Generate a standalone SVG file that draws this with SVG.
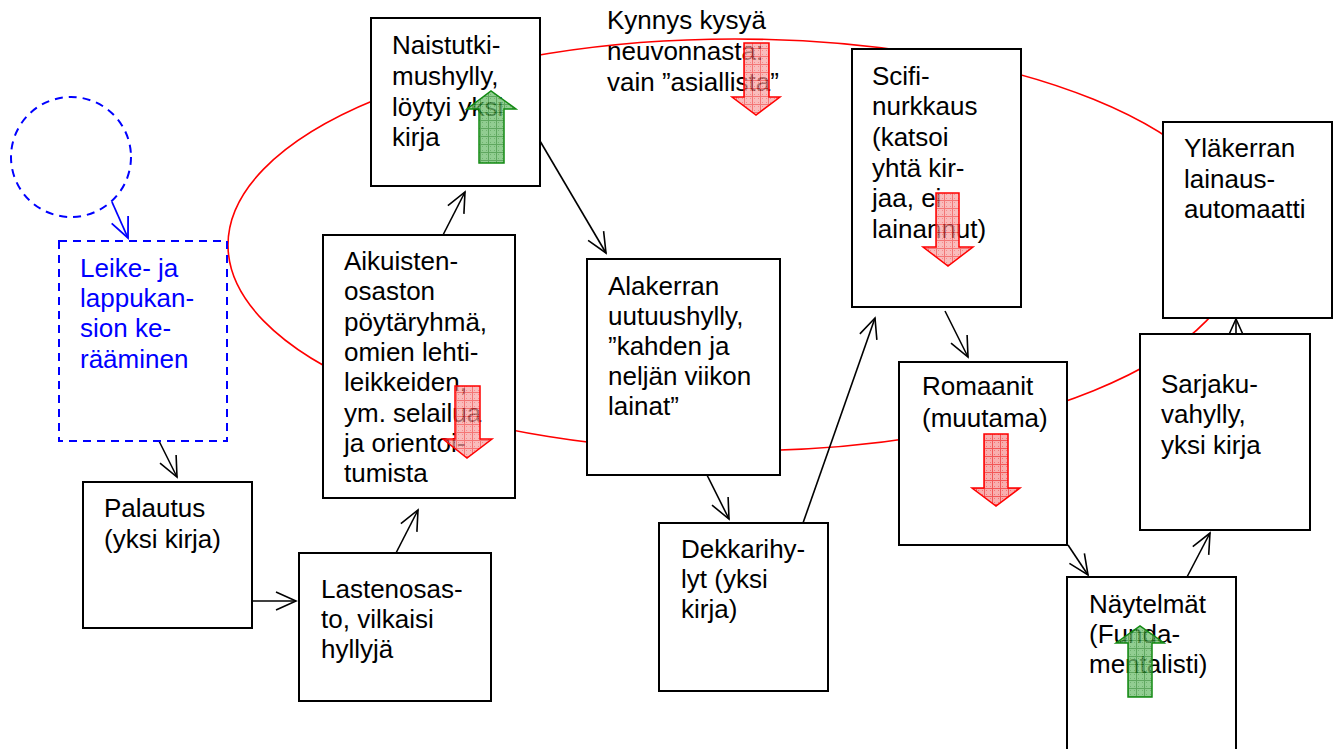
<svg xmlns="http://www.w3.org/2000/svg" width="1338" height="749" viewBox="0 0 1338 749">
  <style>
    .box { fill: #ffffff; stroke: #000000; stroke-width: 2; }
    .dash { fill: #ffffff; stroke: #0000ff; stroke-width: 2; stroke-dasharray: 8 6; }
    .lbl { font-family: "Liberation Sans", Arial, sans-serif; font-size: 26px; fill: #000000; }
    .blue { fill: #0000ff; }
    .conn { stroke: #000000; stroke-width: 1.6; fill: none; marker-end: url(#open); }
    .conn-blue { stroke: #0000ff; stroke-width: 1.8; fill: none; marker-end: url(#openBlue); }
    .down { fill: url(#hatchRed); stroke: #ff0000; stroke-width: 1.5; }
    .up { fill: url(#hatchGreen); stroke: #138a13; stroke-width: 1.5; }
  </style>
  <defs>
    <marker id="open" markerUnits="userSpaceOnUse" markerWidth="26" markerHeight="22" refX="0" refY="0" viewBox="-22 -11 24 22" orient="auto">
      <path d="M-20,-9 L0,0 L-20,9" fill="none" stroke="#000000" stroke-width="1.6"/>
    </marker>
    <marker id="openBlue" markerUnits="userSpaceOnUse" markerWidth="26" markerHeight="22" refX="0" refY="0" viewBox="-22 -11 24 22" orient="auto">
      <path d="M-20,-9 L0,0 L-20,9" fill="none" stroke="#0000ff" stroke-width="1.8"/>
    </marker>
    <pattern id="hatchRed" width="8" height="8" patternUnits="userSpaceOnUse">
      <rect width="8" height="8" fill="#f7a0a0"/>
      <path d="M0,0.5 H8 M0.5,0 V8" stroke="#f03a3a" stroke-width="1"/>
      <path d="M2,2 h1 v1 h-1 Z M6,6 h1 v1 h-1 Z M2,6 h1 v1 h-1 Z M6,2 h1 v1 h-1 Z" fill="#f05a5a"/>
    </pattern>
    <pattern id="hatchGreen" width="8" height="8" patternUnits="userSpaceOnUse">
      <rect width="8" height="8" fill="#6cbc6c"/>
      <path d="M0,0.5 H8 M0.5,0 V8" stroke="#2a8a2a" stroke-width="1"/>
      <path d="M2,2 h1 v1 h-1 Z M6,6 h1 v1 h-1 Z M2,6 h1 v1 h-1 Z M6,2 h1 v1 h-1 Z" fill="#3f9a3f"/>
    </pattern>
  </defs>

  <rect width="1338" height="749" fill="#ffffff"/>

  <!-- loop through the library -->
  <ellipse cx="735" cy="245" rx="507" ry="206" fill="none" stroke="#ff0000" stroke-width="1.6"/>

  <g id="connectors">
    <line class="conn-blue" x1="112" y1="202" x2="128" y2="238"/>
    <line class="conn" x1="155" y1="433" x2="177" y2="477"/>
    <line class="conn" x1="252" y1="601" x2="296" y2="601"/>
    <line class="conn" x1="396" y1="553" x2="418" y2="510"/>
    <line class="conn" x1="443" y1="235" x2="465" y2="192"/>
    <line class="conn" x1="540" y1="141" x2="606" y2="253"/>
    <line class="conn" x1="707" y1="475" x2="729" y2="519"/>
    <line class="conn" x1="803" y1="523" x2="875" y2="318"/>
    <line class="conn" x1="945" y1="311" x2="968" y2="357"/>
    <line class="conn" x1="1068" y1="545" x2="1088" y2="575"/>
    <line class="conn" x1="1187" y1="577" x2="1210" y2="533"/>
    <line class="conn" x1="1236" y1="361" x2="1236" y2="319"/>
  </g>

  <g id="clipping-loop">
    <circle cx="71" cy="157" r="60" fill="none" stroke="#0000ff" stroke-width="2" stroke-dasharray="8 6"/>
  </g>

  <g id="leike">
    <rect class="dash" x="59" y="241" width="168" height="200"/>
    <text class="lbl blue" x="80" y="277">Leike- ja</text>
    <text class="lbl blue" x="80" y="307">lappukan-</text>
    <text class="lbl blue" x="80" y="337">sion ke-</text>
    <text class="lbl blue" x="80" y="368">rääminen</text>
  </g>

  <g id="palautus">
    <rect class="box" x="83" y="482" width="169" height="146"/>
    <text class="lbl" x="104" y="517">Palautus</text>
    <text class="lbl" x="104" y="548">(yksi kirja)</text>
  </g>

  <g id="lastenosasto">
    <rect class="box" x="299" y="553" width="192" height="148"/>
    <text class="lbl" x="321" y="598">Lastenosas-</text>
    <text class="lbl" x="321" y="628">to, vilkaisi</text>
    <text class="lbl" x="321" y="658">hyllyjä</text>
  </g>

  <g id="aikuisten">
    <rect class="box" x="323" y="235" width="192" height="263"/>
    <text class="lbl" x="344" y="270">Aikuisten-</text>
    <text class="lbl" x="344" y="300">osaston</text>
    <text class="lbl" x="344" y="331">pöytäryhmä,</text>
    <text class="lbl" x="344" y="361">omien lehti-</text>
    <text class="lbl" x="344" y="391">leikkeiden,</text>
    <text class="lbl" x="344" y="422">ym. selailua</text>
    <text class="lbl" x="344" y="452">ja orientoi-</text>
    <text class="lbl" x="344" y="482">tumista</text>
    <path class="down" d="M455,386 H480 V439 H492 L467,458 L443,439 H455 Z" fill-opacity="0.7"/>
  </g>

  <g id="naistutkimus">
    <rect class="box" x="371" y="18" width="169" height="168"/>
    <text class="lbl" x="392" y="54">Naistutki-</text>
    <text class="lbl" x="392" y="85">mushylly,</text>
    <text class="lbl" x="392" y="116">löytyi yksi</text>
    <text class="lbl" x="392" y="146">kirja</text>
    <path class="up" d="M479,163 V109 H467 L491,91 L516,109 H504 V163 Z" fill-opacity="0.75"/>
  </g>

  <g id="kynnys">
    <text class="lbl" x="607" y="29">Kynnys kysyä</text>
    <text class="lbl" x="607" y="60">neuvonnasta:</text>
    <text class="lbl" x="607" y="91">vain ”asiallista”</text>
    <path class="down" d="M744,43 H769 V97 H780 L756,115 L732,97 H744 Z" fill-opacity="0.7"/>
  </g>

  <g id="alakerta">
    <rect class="box" x="587" y="259" width="193" height="216"/>
    <text class="lbl" x="608" y="295">Alakerran</text>
    <text class="lbl" x="608" y="325">uutuushylly,</text>
    <text class="lbl" x="608" y="355">”kahden ja</text>
    <text class="lbl" x="608" y="385">neljän viikon</text>
    <text class="lbl" x="608" y="415">lainat”</text>
  </g>

  <g id="dekkari">
    <rect class="box" x="659" y="523" width="169" height="168"/>
    <text class="lbl" x="681" y="558">Dekkarihy-</text>
    <text class="lbl" x="681" y="588">lyt (yksi</text>
    <text class="lbl" x="681" y="618">kirja)</text>
  </g>

  <g id="scifi">
    <rect class="box" x="852" y="49" width="169" height="258"/>
    <text class="lbl" x="872" y="85">Scifi-</text>
    <text class="lbl" x="872" y="115">nurkkaus</text>
    <text class="lbl" x="872" y="146">(katsoi</text>
    <text class="lbl" x="872" y="177">yhtä kir-</text>
    <text class="lbl" x="872" y="207">jaa, ei</text>
    <text class="lbl" x="872" y="238">lainannut)</text>
    <path class="down" d="M936,193 H959 V247 H973 L948,266 L923,247 H936 Z" fill-opacity="0.7"/>
  </g>

  <g id="romaanit">
    <rect class="box" x="899" y="362" width="168" height="183"/>
    <text class="lbl" x="922" y="395">Romaanit</text>
    <text class="lbl" x="922" y="427">(muutama)</text>
    <path class="down" d="M984,434 H1008 V488 H1020 L996,506 L972,488 H984 Z" fill-opacity="0.85"/>
  </g>

  <g id="naytelmat">
    <rect class="box" x="1067" y="577" width="169" height="190"/>
    <text class="lbl" x="1089" y="613">Näytelmät</text>
    <text class="lbl" x="1089" y="643">(Funda-</text>
    <text class="lbl" x="1089" y="673">mentalisti)</text>
    <path class="up" d="M1128,697 V643 H1116 L1140,626 L1164,643 H1152 V697 Z" fill-opacity="0.75"/>
  </g>

  <g id="sarjakuva">
    <rect class="box" x="1140" y="334" width="170" height="196"/>
    <text class="lbl" x="1161" y="393">Sarjaku-</text>
    <text class="lbl" x="1161" y="423">vahylly,</text>
    <text class="lbl" x="1161" y="454">yksi kirja</text>
  </g>

  <g id="ylakerta">
    <rect class="box" x="1163" y="122" width="169" height="196"/>
    <text class="lbl" x="1184" y="157">Yläkerran</text>
    <text class="lbl" x="1184" y="188">lainaus-</text>
    <text class="lbl" x="1184" y="218">automaatti</text>
  </g>
</svg>
